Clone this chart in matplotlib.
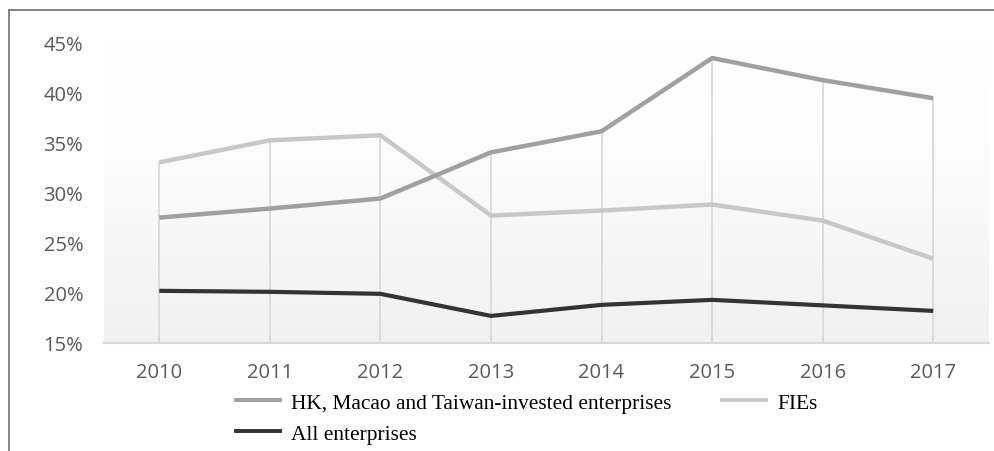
import matplotlib.pyplot as plt
from matplotlib.lines import Line2D
import numpy as np

years = ['2010', '2011', '2012', '2013', '2014', '2015', '2016', '2017']
hk_macao_taiwan = [27.5, 28.4, 29.4, 34.0, 36.1, 43.4, 41.2, 39.4]
fies = [33.0, 35.2, 35.7, 27.7, 28.2, 28.8, 27.2, 23.4]
all_enterprises = [20.2, 20.1, 19.9, 17.7, 18.8, 19.3, 18.75, 18.2]
yticks = [15, 20, 25, 30, 35, 40, 45]

W, H = 994, 452
fig = plt.figure(figsize=(W / 100, H / 100), dpi=100)
ax = fig.add_axes([104 / W, 1 - 344 / H, (988.5 - 104) / W, (344 - 43) / H])

x = np.arange(len(years))
ax.set_xlim(-0.5, len(years) - 0.5)
ax.set_ylim(15, 45)

# soft vertical gradient behind the lines
grad = np.linspace(0, 1, 256).reshape(-1, 1)
ax.imshow(grad, extent=(-0.5, len(years) - 0.5, 15, 45), aspect='auto',
          cmap=plt.matplotlib.colors.LinearSegmentedColormap.from_list(
              'bg', ['#f1f1f2', '#f7f7f8', '#fdfdfd', '#ffffff'], N=256),
          origin='lower', zorder=0)

# drop lines from the top series down to the axis
tops = np.max([hk_macao_taiwan, fies, all_enterprises], axis=0)
ax.vlines(x, 15, tops, color='#d9d9d9', lw=1.3, zorder=1)

ax.plot(x, hk_macao_taiwan, color='#a0a0a3', lw=3.2, zorder=3,
        label='HK, Macao and Taiwan-invested enterprises', solid_capstyle='butt')
ax.plot(x, fies, color='#c8c8ca', lw=3.2, zorder=2, label='FIEs', solid_capstyle='butt')
ax.plot(x, all_enterprises, color='#333333', lw=3.0, zorder=4,
        label='All enterprises', solid_capstyle='butt')

for s in ['top', 'right', 'left']:
    ax.spines[s].set_visible(False)
ax.spines['bottom'].set_color('#d9d9d9')
ax.spines['bottom'].set_linewidth(1.5)

ax.set_xticks(x)
ax.set_xticklabels(years)
ax.set_yticks(yticks)
ax.set_yticklabels([f'{v}%' for v in yticks])
ax.tick_params(length=0, labelcolor='#595959', labelsize=14.5)
ax.tick_params(axis='x', pad=14)
ax.tick_params(axis='y', pad=15)
for lab in ax.get_xticklabels() + ax.get_yticklabels():
    lab.set_family('Open Sans')

h, l = ax.get_legend_handles_labels()
order = [0, 2, 1]
leg = fig.legend([h[i] for i in order], [l[i] for i in order], ncol=2,
                 loc='upper left', bbox_to_anchor=(234 / W, 1 - 394 / H),
                 frameon=False, prop={'family': 'Liberation Serif', 'size': 15.4},
                 handlelength=2.25, handletextpad=0.4, columnspacing=2.3,
                 labelspacing=0.5, borderaxespad=0, borderpad=0)
for ln in leg.get_lines():
    ln.set_linewidth(2.8)

# outer frame: top and left edges
fig.add_artist(Line2D([9 / W, 1], [1 - 11 / H, 1 - 11 / H], color='#707070', lw=1.2))
fig.add_artist(Line2D([9 / W, 9 / W], [0, 1 - 11 / H], color='#707070', lw=1.2))

fig.savefig('out.png', dpi=100)
